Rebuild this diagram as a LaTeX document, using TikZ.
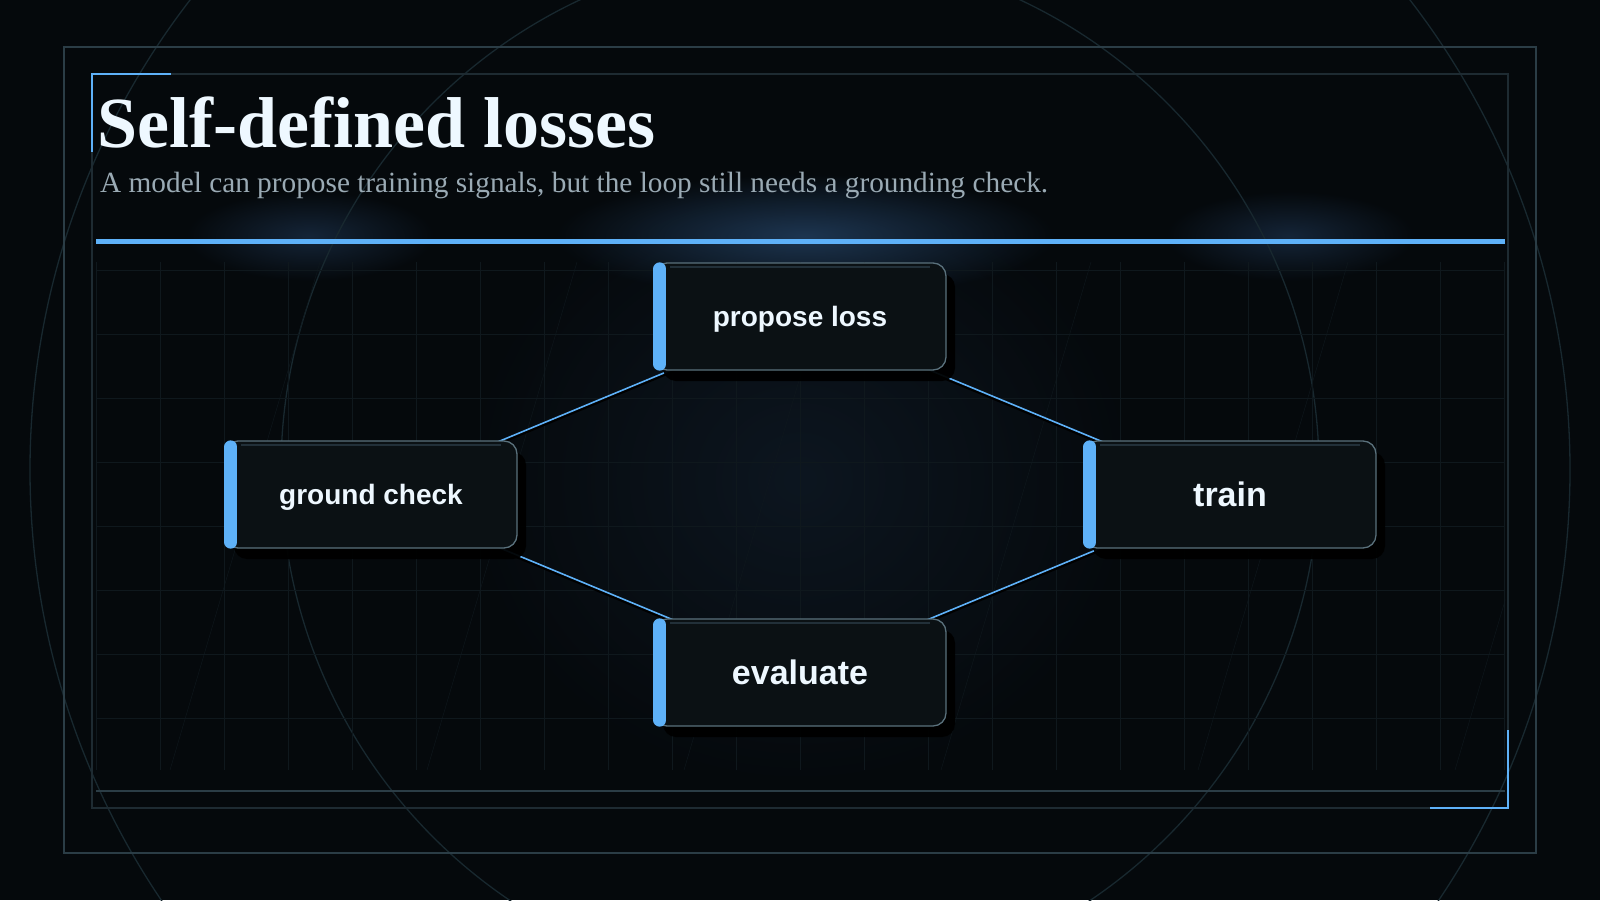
\documentclass[tikz,border=0pt]{standalone}
\usepackage{fontspec}
\setmainfont{Liberation Serif}
\setsansfont{Liberation Sans}
\usepackage{tikz}
\usetikzlibrary{shadows,fadings}

\definecolor{bg}{HTML}{05090C}
\definecolor{frameline}{HTML}{2B3D46}
\definecolor{gridline}{HTML}{0F181D}
\definecolor{ringline}{HTML}{18282F}
\definecolor{accent}{HTML}{5EB1F8}
\definecolor{boxfill}{HTML}{0B1114}
\definecolor{boxedge}{HTML}{5A717C}
\definecolor{boxtop}{HTML}{223039}
\definecolor{titletext}{HTML}{EEF8FF}
\definecolor{subtext}{HTML}{9AAAB4}
\definecolor{glow}{HTML}{1D3550}
\definecolor{haze}{HTML}{0D1620}

\tikzfading[name=softglow, inner color=transparent!0, outer color=transparent!100]
\pgfdeclarelayer{back}
\pgfdeclarelayer{mid}
\pgfsetlayers{back,mid,main}

\tikzstyle{stage} = [rectangle, rounded corners=13pt, draw=boxedge, line width=1.3pt, fill=boxfill, minimum width=292pt, minimum height=107pt, inner sep=0pt, text=titletext, drop shadow={shadow xshift=9pt, shadow yshift=-11pt, fill=black, opacity=0.95}]
\tikzstyle{smalltext} = [font=\sffamily\bfseries\fontsize{28}{31}\selectfont, text height=25pt, text depth=6pt]
\tikzstyle{bigtext} = [font=\sffamily\bfseries\fontsize{34}{37}\selectfont, text height=30pt, text depth=7pt]
\tikzstyle{loopline} = [accent, line width=1.6pt]
\tikzstyle{loopshade} = [black, line width=2.5pt]
\tikzstyle{accentbar} = [accent, line width=13pt, line cap=round]

\begin{document}
\begin{tikzpicture}[x=1pt,y=-1pt]
  \useasboundingbox (0,0) rectangle (1600,900);
  \begin{pgfonlayer}{back}
  \clip (0,0) rectangle (1600,900);
  \fill[bg] (0,0) rectangle (1600,900);
  \fill[haze, path fading=softglow] (800,480) ellipse (340 and 310);
  \fill[glow, path fading=softglow] (805,236) ellipse (250 and 62);
  \fill[glow!65!bg, path fading=softglow] (310,236) ellipse (125 and 45);
  \fill[glow!65!bg, path fading=softglow] (1290,236) ellipse (125 and 45);
  \draw[ringline, line width=1.3pt] (800,470) circle (770);
  \draw[ringline, line width=1.3pt] (800,470) circle (519);
  \begin{scope}
    \clip (96,262) rectangle (1505,770);
    \foreach \gx in {96,160,...,1504} \draw[gridline] (\gx,262) -- (\gx,770);
    \foreach \gy in {270,334,...,718} \draw[gridline] (96,\gy) -- (1505,\gy);
    \foreach \sx in {170,427,684,941,1198,1455} \draw[gridline] (\sx,770) -- (\sx+150,262);
  \end{scope}
  \draw[frameline, line width=1.5pt] (64,47) rectangle (1536,853);
  \draw[frameline!65!bg, line width=1.5pt] (92,74) rectangle (1508,808);
  \draw[frameline, line width=1.5pt] (96,791) -- (1505,791);
  \draw[accent, line width=2.5pt] (171,74) -- (92,74) -- (92,152);
  \draw[accent, line width=2.5pt] (1430,808) -- (1508,808) -- (1508,730);
  \draw[accent, line width=4.5pt] (96,241.5) -- (1505,241.5);
  \end{pgfonlayer}

  \node[anchor=base west, inner sep=0pt, text=titletext, font=\bfseries\fontsize{72}{80}\selectfont] (title) at (97,147) {Self-defined losses};
  \node[anchor=base west, inner sep=0pt, text=subtext, font=\fontsize{29.3}{33}\selectfont] (subtitle) at (100,192.3) {A model can propose training signals, but the loop still needs a grounding check.};

  \node[stage, smalltext] (propose) at (800,316.5) {propose loss};
  \node[stage, smalltext] (ground) at (371,494.5) {ground check};
  \node[stage, bigtext] (train) at (1230,494.5) {train};
  \node[stage, bigtext] (evaluate) at (800,672.5) {evaluate};

  \begin{pgfonlayer}{mid}
  \foreach \a/\b in {propose/ground, propose/train, ground/evaluate, train/evaluate}{
    \draw[loopshade] ([yshift=-2pt]\a.center) -- ([yshift=-2pt]\b.center);
    \draw[loopline] (\a.center) -- (\b.center);
  }
  \end{pgfonlayer}

  \foreach \n in {propose,ground,train,evaluate}{
    \draw[boxtop, line width=2pt] ([xshift=17pt,yshift=-4.5pt]\n.north west) -- ([xshift=-17pt,yshift=-4.5pt]\n.north east);
    \draw[accentbar] ([xshift=6.5pt,yshift=-6.5pt]\n.north west) -- ([xshift=6.5pt,yshift=6.5pt]\n.south west);
  }
\end{tikzpicture}
\end{document}
